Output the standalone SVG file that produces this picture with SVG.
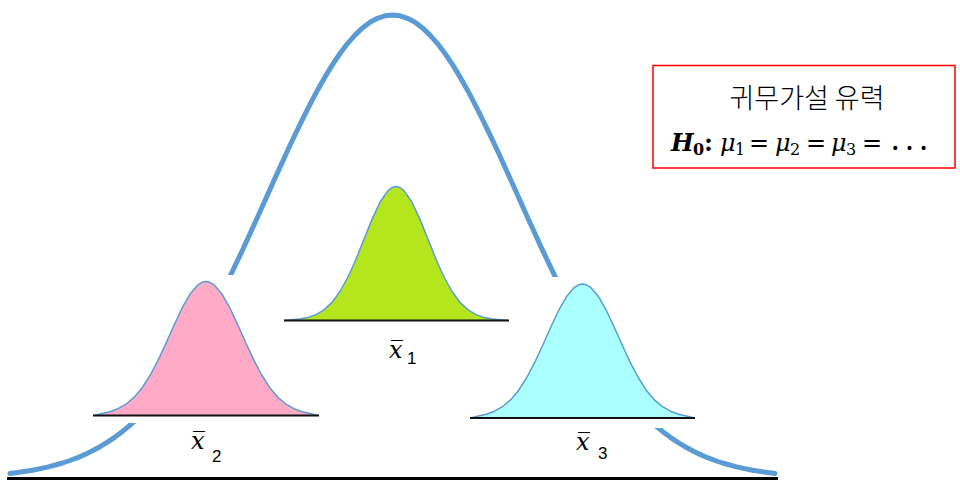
<svg xmlns="http://www.w3.org/2000/svg" width="960" height="486" viewBox="0 0 960 486">
<defs>
<style>
.big{fill:none;stroke:#5b9bd5;stroke-width:5;stroke-linejoin:round;stroke-linecap:round}
.mask{fill:#ffffff;stroke:none}
.bell{stroke:#5b9bd5;stroke-width:1.5;stroke-linejoin:round}
.base{stroke:#111111;stroke-width:2}
.xbar{font-family:"DejaVu Serif",serif;font-style:italic;font-size:24px;fill:#000}
.sub{font-family:"Liberation Sans",Arial,sans-serif;font-size:17px;fill:#000}
.kr{font-family:"Noto Sans CJK KR",sans-serif;font-size:27px;font-weight:300;fill:#000}
.math{font-family:"DejaVu Serif",serif;font-size:24px;fill:#000}
</style>
<path id="wide" d="M-112,0 L-104,-2.1 L-96,-3.8 L-88,-6.8 L-80,-11.3 L-72,-18.1 L-64,-27.6 L-56,-40 L-48,-55.1 L-40,-72.3 L-32,-90.3 L-24,-107.3 L-16,-121.4 L-8,-130.7 L-4,-133.2 L0,-134 L4,-133.2 L8,-130.7 L16,-121.4 L24,-107.3 L32,-90.3 L40,-72.3 L48,-55.1 L56,-40 L64,-27.6 L72,-18.1 L80,-11.3 L88,-6.8 L96,-3.8 L104,-2.1 L112,0"/>
<path id="narrow" d="M-112,0 L-104,-0.7 L-96,-1.5 L-88,-3.1 L-80,-5.9 L-72,-10.7 L-64,-18.1 L-56,-29 L-48,-43.5 L-40,-61.3 L-32,-81.3 L-24,-101.1 L-16,-118.3 L-8,-129.9 L-4,-133 L0,-134 L4,-133 L8,-129.9 L16,-118.3 L24,-101.1 L32,-81.3 L40,-61.3 L48,-43.5 L56,-29 L64,-18.1 L72,-10.7 L80,-5.9 L88,-3.1 L96,-1.5 L104,-0.7 L112,0"/>
</defs>
<rect width="960" height="486" fill="#ffffff"/>

<g id="population">
<polyline class="big" points="10,473.4 17.5,472.5 32.5,470.2 47.5,467.1 62.5,463 70,460.5 77.5,457.7 85,454.4 92.5,450.8 100,446.7 107.5,442.1 115,437.1 122.5,431.4 130,425.2 137.5,418.3 145,410.7 152.5,402.6 160,393.6 167.5,384 175,373.6 182.5,362.6 190,350.6 197.5,338.2 212.5,311.1 227.5,281.6 242.5,250.1 257.5,217.2 272.5,183.8 287.5,150.8 295,134.8 302.5,119.3 310,104.3 317.5,90.2 325,76.9 332.5,64.6 340,53.5 347.5,43.6 355,35.1 362.5,27.9 370,22.3 377.5,18.3 385,15.8 392.5,15 400,15.8 407.5,18.3 415,22.3 422.5,27.9 430,35.1 437.5,43.6 445,53.5 452.5,64.6 460,76.9 467.5,90.2 475,104.3 482.5,119.3 490,134.8 497.5,150.8 512.5,183.8 527.5,217.2 542.5,250.1 557.5,281.6 572.5,311.1 587.5,338.2 595,350.6 602.5,362.6 610,373.6 617.5,384 625,393.6 632.5,402.6 640,410.7 647.5,418.3 655,425.2 662.5,431.4 670,437.1 677.5,442.1 685,446.7 692.5,450.8 700,454.4 707.5,457.7 715,460.5 722.5,463 737.5,467.1 752.5,470.2 767.5,472.5 775,473.4"/>
<line x1="7" y1="478.5" x2="778" y2="478.5" stroke="#000" stroke-width="3"/>
</g>

<g id="sample2">
<rect class="mask" x="90" y="275" width="232" height="148"/>
<use href="#wide" transform="translate(206,415.5)" class="bell" fill="#ffabc8"/>
<line class="base" x1="93" y1="415.5" x2="319" y2="415.5"/>
<text class="xbar" x="191" y="449">x̅</text>
<text class="sub" x="212" y="462">2</text>
</g>

<g id="sample3">
<rect class="mask" x="468" y="277" width="230" height="151"/>
<use href="#wide" transform="translate(582.5,418)" class="bell" fill="#abffff"/>
<line class="base" x1="470" y1="418" x2="695" y2="418"/>
<text class="xbar" x="576" y="450">x̅</text>
<text class="sub" x="598" y="459">3</text>
</g>

<g id="sample1">
<use href="#narrow" transform="translate(396,320.5)" class="bell" fill="#b5e61d"/>
<line class="base" x1="284" y1="320.5" x2="509" y2="320.5" stroke="#404040"/>
<text class="xbar" x="389" y="358">x̅</text>
<text class="sub" x="407" y="364">1</text>
</g>

<g id="hypothesis">
<rect x="653" y="65.5" width="302" height="102.5" fill="#ffffff" stroke="#ff0000" stroke-width="1.5"/>
<text class="kr" x="807" y="108" text-anchor="middle">귀무가설 유력</text>
<text class="math" y="151"><tspan x="671" font-weight="bold" font-style="italic">H</tspan><tspan x="693" y="155" font-size="16px" font-weight="bold">0</tspan><tspan x="704" y="151" font-weight="bold">:</tspan><tspan x="720" font-style="italic">μ</tspan><tspan x="735" y="155" font-size="16px">1</tspan><tspan x="749" y="151">=</tspan><tspan x="775" font-style="italic">μ</tspan><tspan x="790" y="155" font-size="16px">2</tspan><tspan x="806" y="151">=</tspan><tspan x="831" font-style="italic">μ</tspan><tspan x="846" y="155" font-size="16px">3</tspan><tspan x="862" y="151">=</tspan><tspan x="889" y="150" font-family="Noto Sans CJK KR" font-size="38px" font-weight="300">⋯</tspan></text>
</g>
</svg>
